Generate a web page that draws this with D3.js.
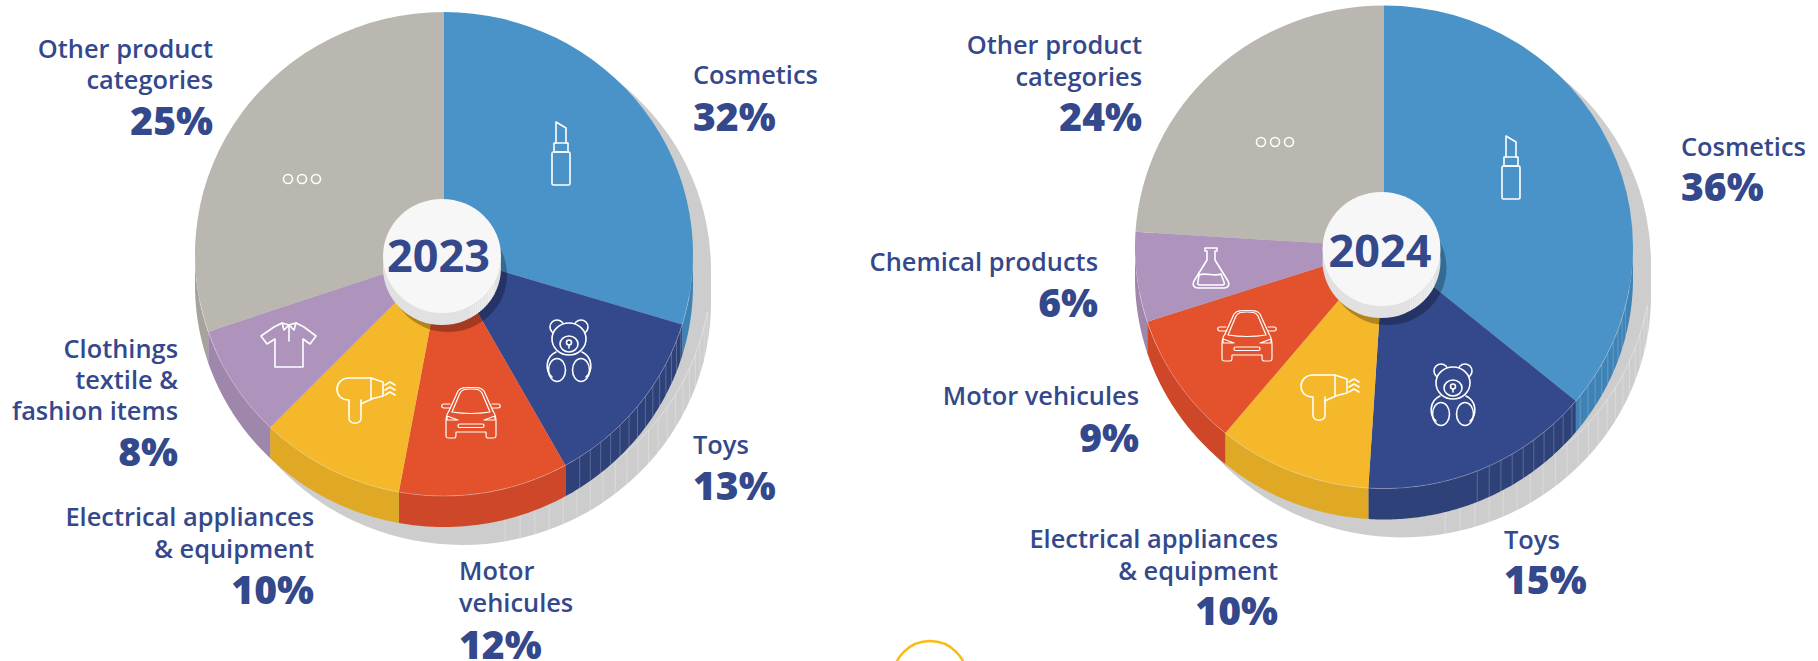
<!DOCTYPE html>
<html>
<head>
<meta charset="utf-8">
<script src="https://cdn.jsdelivr.net/npm/d3@7"></script>
<style>
    html, body { margin: 0; padding: 0; background: #fff; }
    svg { display: block; }
    text { font-family: "Open Sans", sans-serif; fill: #34488c; }
    .name { font-size: 25.4px; font-weight: 600; }
    .pct { font-size: 39px; font-weight: 800; }
    .year { font-size: 45px; font-weight: 700; text-anchor: middle; }
    .icon * { fill: none; stroke: #fff; stroke-width: 1.6; stroke-linejoin: round; stroke-linecap: round; }
    .icon.car * { stroke-width: 1.2; }
</style>
</head>
<body>
<svg id="chart"></svg>
<script>
const categories2023 = ['Cosmetics', 'Toys', 'Motor vehicules', 'Electrical appliances', 'Clothings', 'Other']
const shares2023 = [32, 13, 12, 10, 8, 25]
// the 2023 slices are not drawn to their printed shares in the original, so these are the shares as measured
const drawnShares2023 = [29.7, 12.2, 11, 9.4, 7.5, 30.2]
const colors2023 = ['#4a93c9', '#34488c', '#e3522d', '#f5b82a', '#ae94bd', '#b9b7af']
const walls2023 = ['#3f82b6', '#2e4279', '#cf4729', '#dfa926', '#9f86ab', '#a5a39b']

const categories2024 = ['Cosmetics', 'Toys', 'Electrical appliances', 'Motor vehicules', 'Chemical products', 'Other']
const shares2024 = [36, 15, 10, 9, 6, 24]
const colors2024 = ['#4a93c9', '#34488c', '#f5b82a', '#e3522d', '#ae94bd', '#b9b7af']
const walls2024 = ['#3f82b6', '#2e4279', '#dfa926', '#cf4729', '#9f86ab', '#a5a39b']

const width = 1818
const height = 661

const svg = d3.select('#chart')
    .attr('width', width)
    .attr('height', height)

const iconMarkup = {
    lipstick: `<rect x="-9" y="-2" width="18" height="33" rx="1.5"/><rect x="-7" y="-11" width="14" height="9"/>
        <path d="M-5,-11V-32L5,-26V-11"/>`,
    bear: `<circle cx="-12" cy="-24" r="7"/><circle cx="12" cy="-24" r="7"/>
        <ellipse cx="0" cy="-12" rx="17" ry="16" style="fill:#34488c"/>
        <ellipse cx="0" cy="-7" rx="9" ry="8"/><circle cx="0" cy="-8.5" r="2.5"/><path d="M0,-6V-3"/>
        <path d="M-13,1C-24,6 -24,20 -17,26M13,1C24,6 24,20 17,26"/>
        <ellipse cx="-12" cy="19" rx="8.5" ry="11.5"/><ellipse cx="12" cy="19" rx="8.5" ry="11.5"/>`,
    dryer: `<path d="M5,-22H-17C-25,-22 -29,-16 -29,-11C-29,-5 -25,0 -17,0V18C-17,25 -5,25 -5,18V4L-1,2L6,-1"/>
        <path d="M5,-22L17,-18V-4L5,-1ZM-5,4V0"/>
        <path d="M19,-15L24,-18L29,-15M19,-10L24,-13L29,-10M19,-5L24,-8L29,-5"/>`,
    car: `<path d="M-19,-1L-11,-20C-9,-24 -5,-24 0,-24C5,-24 9,-24 11,-20L19,-1Q0,2 -19,-1Z"/>
        <path d="M-22,-2L-13,-22C-10,-26 -5,-25.500 0,-25.500C5,-25.500 10,-26 13,-22L22,-2"/>
        <path d="M-21,-9H-27C-30,-9 -30,-5 -27,-5H-21M21,-9H27C30,-9 30,-5 27,-5H21"/>
        <path d="M-22,-2C-25,2 -25,5 -25,8V22C-25,25 -24,25 -22,25H-17C-15,25 -15,24 -15,19H15C15,24 15,25 17,25H22C24,25 25,25 25,22V8C25,5 25,2 22,-2"/>
        <path d="M-24,3L-13,7H-24ZM24,3L13,7H24Z"/>
        <rect x="-13" y="11" width="26" height="3.500" rx="1.500"/>`,
    shirt: `<path d="M-7,-21L-15,-17L-28,-8L-22,0L-14,-5V23H14V-5L21,0L27,-8L15,-17L7,-21"/>
        <path d="M-7,-21L0,-19L7,-21L5,-14L0,-19L-5,-14ZM0,-19V-3"/>`,
    flask: `<path d="M-6,-20H6V-17H4V-8L17,13C19,17 17,20 13,20H-13C-17,20 -19,17 -17,13L-4,-8V-17H-6Z"/>
        <path d="M-12,7C-6,4 4,9 10,6L13,14C14,16 13,17 11,17H-11C-13,17 -14,16 -13,14Z"/>`,
    dots: `<circle cx="-14" r="4.500"/><circle cx="0" r="4.500"/><circle cx="14" r="4.500"/>`
}

const rad = d3.scaleLinear().domain([0, 360]).range([0, Math.PI * 2])

// faint vertical facet lines left over from the 3D export
function facets(parent, rx, ry, y0, y1, fromDeg, toDeg, stepDeg, color, opacity) {
    parent.append('g')
        .attr('stroke', color)
        .attr('stroke-width', 0.7)
        .attr('opacity', opacity)
        .selectAll('line')
        .data(d3.range(fromDeg, toDeg, stepDeg))
        .join('line')
        .attr('x1', d => rx * Math.sin(rad(d)))
        .attr('x2', d => rx * Math.sin(rad(d)))
        .attr('y1', d => -ry * Math.cos(rad(d)) + y0)
        .attr('y2', d => -ry * Math.cos(rad(d)) + y1)
}

function rimLine(parent, rx, ry, dy, fromDeg, toDeg, color, opacity) {
    const line = d3.line()
        .x(d => rx * Math.sin(rad(d)))
        .y(d => -ry * Math.cos(rad(d)) + dy)
    parent.append('path')
        .attr('d', line(d3.range(fromDeg, toDeg, 1)))
        .attr('fill', 'none')
        .attr('stroke', color)
        .attr('stroke-width', 0.8)
        .attr('opacity', opacity)
}

function drawPie(opts) {
    const rx = opts.rx, ry = opts.ry, depth = 31
    const g = svg.append('g').attr('transform', `translate(${opts.cx}, ${opts.cy})`)

    // grey cast shadow: ellipse swept down from one offset to the other
    const shadow = g.append('g').attr('fill', '#cdcdcd').attr('transform', 'translate(18, 0)')
    shadow.append('ellipse').attr('cy', 16).attr('rx', rx).attr('ry', ry)
    shadow.append('ellipse').attr('cy', 49).attr('rx', rx).attr('ry', ry)
    shadow.append('rect').attr('x', -rx).attr('y', 16).attr('width', rx * 2).attr('height', 33)
    rimLine(shadow, rx, ry, 16, 100, 172, '#fff', 0.45)
    facets(shadow, rx, ry, 16, 49, 100, 172, 3.5, '#fff', 0.4)

    const arcs = d3.pie().sort(null)(opts.values)

    // side wall, only the front half of the rim can be seen
    const wall = d3.area()
        .x(a => rx * Math.sin(a))
        .y0(a => -ry * Math.cos(a))
        .y1(a => -ry * Math.cos(a) + depth)
    arcs.forEach((d, i) => {
        const from = Math.max(d.startAngle, Math.PI / 2)
        const to = Math.min(d.endAngle, Math.PI * 1.5)
        if (to <= from) return
        const angles = d3.range(from, to, 0.01).concat([to])
        g.append('path').attr('d', wall(angles)).attr('fill', opts.walls[i])
    })
    facets(g, rx, ry, 0, depth, opts.facetFrom, opts.facetTo, 3, '#fff', 0.3)

    const arc = d3.arc().innerRadius(0).outerRadius(rx)
    g.append('g')
        .attr('transform', `scale(1, ${ry / rx})`)
        .selectAll('path')
        .data(arcs)
        .join('path')
        .attr('d', arc)
        .attr('fill', (d, i) => opts.colors[i])
    rimLine(g, rx, ry, 0, 100, 260, '#fff', 0.3)

    // centre disc
    const disc = svg.append('g').attr('transform', `translate(${opts.discX}, ${opts.discY})`)
    disc.append('ellipse').attr('cx', 6).attr('cy', 19).attr('rx', 59).attr('ry', 57)
        .attr('fill', '#000').attr('opacity', 0.28)
    disc.append('ellipse').attr('cy', 12).attr('rx', 59).attr('ry', 57).attr('fill', '#e1e1e2')
    facets(disc, 59, 57, 1, 12, 118, 152, 2.5, '#fff', 0.7)
    disc.append('ellipse').attr('rx', 59).attr('ry', 57).attr('fill', '#f7f7f8')
    disc.append('text').attr('class', 'year').attr('x', opts.yearX).attr('y', opts.yearY).text(opts.year)

    opts.icons.forEach(ic => {
        svg.append('g')
            .attr('class', 'icon ' + ic.name)
            .attr('transform', `translate(${ic.x}, ${ic.y})`)
            .html(iconMarkup[ic.name])
    })

    opts.labels.forEach(l => {
        const t = svg.append('g').attr('text-anchor', l.anchor)
        l.lines.forEach((line, i) => {
            t.append('text').attr('class', 'name').attr('x', l.x).attr('y', l.y[i]).text(line)
        })
        t.append('text').attr('class', 'pct').attr('x', l.x).attr('y', l.py).text(opts.shares[l.i] + '%')
    })
}

drawPie({
    year: '2023', cx: 444, cy: 254, rx: 249, ry: 242, discX: 442, discY: 256, yearX: -3.5, yearY: 16,
    facetFrom: 108, facetTo: 150,
    values: drawnShares2023, shares: shares2023, colors: colors2023, walls: walls2023,
    icons: [
        {name: 'lipstick', x: 561, y: 154}, {name: 'bear', x: 569, y: 351}, {name: 'car', x: 471, y: 413},
        {name: 'dryer', x: 366, y: 400}, {name: 'shirt', x: 289, y: 344}, {name: 'dots', x: 302, y: 179}
    ],
    labels: [
        {i: 0, anchor: 'start', x: 693, y: [84], py: 131, lines: ['Cosmetics']},
        {i: 1, anchor: 'start', x: 693, y: [454], py: 500, lines: ['Toys']},
        {i: 2, anchor: 'start', x: 459, y: [580, 612], py: 659, lines: ['Motor', 'vehicules']},
        {i: 3, anchor: 'end', x: 314, y: [526, 558], py: 604, lines: ['Electrical appliances', '& equipment']},
        {i: 4, anchor: 'end', x: 178, y: [358, 389, 420], py: 466, lines: ['Clothings', 'textile &', 'fashion items']},
        {i: 5, anchor: 'end', x: 213, y: [58, 89], py: 135, lines: ['Other product', 'categories']}
    ]
})

drawPie({
    year: '2024', cx: 1384, cy: 247, rx: 249, ry: 241.5, discX: 1381.5, discY: 249, yearX: -1.5, yearY: 18,
    facetFrom: 104, facetTo: 160,
    values: shares2024, shares: shares2024, colors: colors2024, walls: walls2024,
    icons: [
        {name: 'lipstick', x: 1511, y: 168}, {name: 'bear', x: 1453, y: 395}, {name: 'car', x: 1247, y: 336},
        {name: 'dryer', x: 1330, y: 397}, {name: 'flask', x: 1211, y: 268}, {name: 'dots', x: 1275, y: 142}
    ],
    labels: [
        {i: 0, anchor: 'start', x: 1681, y: [156], py: 201, lines: ['Cosmetics']},
        {i: 1, anchor: 'start', x: 1504, y: [549], py: 594, lines: ['Toys']},
        {i: 2, anchor: 'end', x: 1278, y: [548, 580], py: 625, lines: ['Electrical appliances', '& equipment']},
        {i: 3, anchor: 'end', x: 1139, y: [405], py: 452, lines: ['Motor vehicules']},
        {i: 4, anchor: 'end', x: 1098, y: [271], py: 317, lines: ['Chemical products']},
        {i: 5, anchor: 'end', x: 1142, y: [54, 86], py: 131, lines: ['Other product', 'categories']}
    ]
})

// partial yellow ring cut by the bottom edge
svg.append('circle')
    .attr('cx', 930).attr('cy', 678).attr('r', 37)
    .attr('fill', 'none').attr('stroke', '#f9bc15').attr('stroke-width', 2.5)
</script>
</body>
</html>
